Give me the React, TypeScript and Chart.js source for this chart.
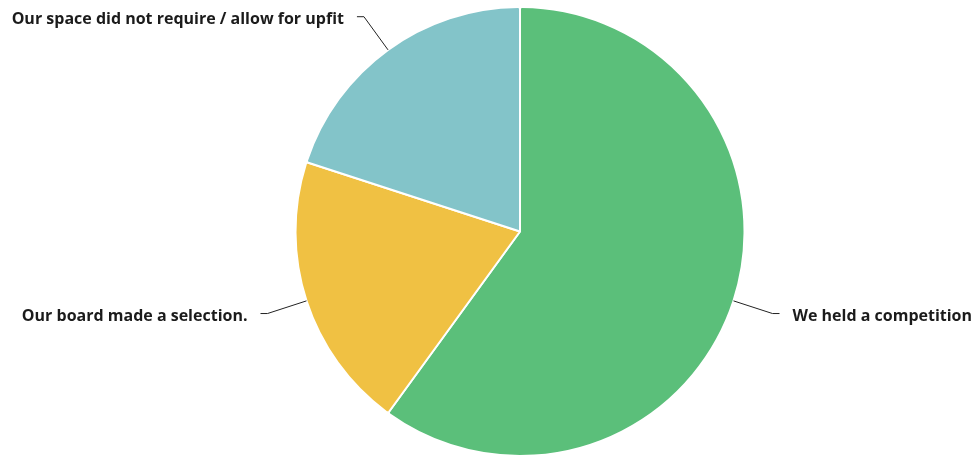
import React, { useEffect, useRef } from "react";
import { Chart, registerables } from "chart.js";

Chart.register(...registerables);

const labels = ["We held a competition", "Our board made a selection.", "Our space did not require / allow for upfit"];
const values = [60, 20, 20];
const colors = ["#5BBF7A", "#F0C143", "#83C4C9"];

const leaderPlugin = {
  id: "leaders",
  afterDraw(chart: any) {
    const ctx = chart.ctx;
    const meta = chart.getDatasetMeta(0);
    ctx.save();
    ctx.strokeStyle = "#222";
    ctx.lineWidth = 1;
    ctx.fillStyle = "#1b1b1b";
    ctx.font = "bold 16px 'Open Sans'";
    ctx.textBaseline = "middle";
    meta.data.forEach((arc: any, i: number) => {
      const { x, y, startAngle, endAngle, outerRadius } = arc.getProps(["x", "y", "startAngle", "endAngle", "outerRadius"], true);
      const mid = (startAngle + endAngle) / 2;
      const cx = Math.cos(mid), sy = Math.sin(mid);
      const x0 = x + cx * outerRadius, y0 = y + sy * outerRadius;
      const x1 = x + cx * (outerRadius + 41), y1 = y + sy * (outerRadius + 41);
      const right = cx >= 0;
      const x2 = x1 + (right ? 7 : -7);
      ctx.beginPath();
      ctx.moveTo(x0, y0);
      ctx.lineTo(x1, y1);
      ctx.lineTo(x2, y1);
      ctx.stroke();
      ctx.textAlign = right ? "left" : "right";
      ctx.fillText(labels[i], x2 + (right ? 13 : -13), y1 + 3);
    });
    ctx.restore();
  },
};

export default function App() {
  const ref = useRef<HTMLCanvasElement>(null);
  useEffect(() => {
    const chart = new Chart(ref.current!, {
      type: "pie",
      data: {
        labels,
        datasets: [{ data: values, backgroundColor: colors, borderColor: "#ffffff", borderWidth: 2, borderRadius: 2 }],
      },
      options: {
        animation: false,
        responsive: false,
        layout: { padding: { left: 200, right: 136, top: 6, bottom: 0 } },
        plugins: { legend: { display: false }, tooltip: { enabled: false } },
      },
      plugins: [leaderPlugin],
    });
    return () => chart.destroy();
  }, []);
  return (
    <div style={{ position: "fixed", left: 0, top: 0, width: 976, height: 457, background: "#fff" }}>
      <canvas ref={ref} width={976} height={457} style={{ width: 976, height: 457 }} />
    </div>
  );
}
